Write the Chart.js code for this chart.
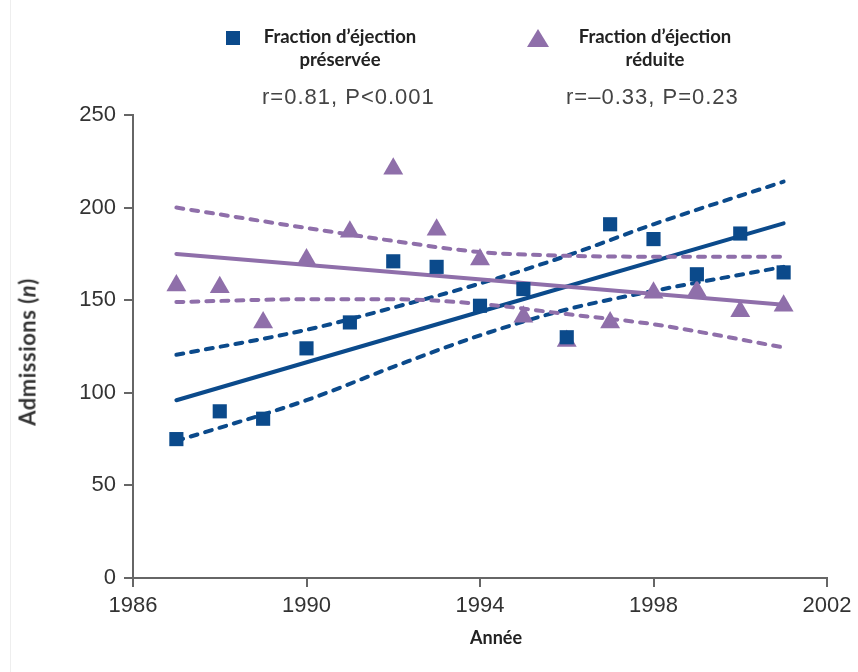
<!DOCTYPE html>
<html>
<head>
<meta charset="utf-8">
<script src="https://cdn.jsdelivr.net/npm/chart.js@4"></script>
<style>
  body { margin: 0; background: #fff; }
  #wrap { position: relative; width: 858px; height: 672px; overflow: hidden; }
  #wrap:before { content: ''; position: absolute; left: 10px; top: 0; bottom: 0; border-left: 1px solid #eee; }
  canvas { position: absolute; left: 0; top: 0; }
  .txt { position: absolute; color: #333; white-space: nowrap; }
  .leg { font: bold 18.5px Lato, "Noto Sans", sans-serif; text-align: center; line-height: 23px; color: #222; }
  .stat { font: 22px "Liberation Sans", Arial, sans-serif; letter-spacing: 1px; color: #444; }
  .sq { position: absolute; left: 226px; top: 31px; width: 14px; height: 14px; background: #0b4a8b; }
  .tri { position: absolute; left: 527px; top: 29px; width: 0; height: 0;
         border-left: 11px solid transparent; border-right: 11px solid transparent; border-bottom: 18px solid #8f6faa; }
  #ytitle { left: 27px; top: 352px; transform: translate(-50%, -50%) rotate(-90deg);
            font: bold 22px Lato, "Noto Sans", sans-serif; letter-spacing: 0.5px; color: #333; }
  #xtitle { left: 496px; top: 637px; transform: translate(-50%, -50%);
            font: bold 18px Lato, "Noto Sans", sans-serif; color: #222; }
</style>
</head>
<body>
<div id="wrap">
  <canvas id="myChart" width="858" height="672"></canvas>
  <div class="sq"></div>
  <div class="txt leg" style="left:340px; top:25px; transform:translateX(-50%)">Fraction d’éjection<br>préservée</div>
  <div class="tri"></div>
  <div class="txt leg" style="left:655px; top:25px; transform:translateX(-50%)">Fraction d’éjection<br>réduite</div>
  <div class="txt stat" style="left:262px; top:84px">r=0.81, P&lt;0.001</div>
  <div class="txt stat" style="left:566px; top:84px">r=–0.33, P=0.23</div>
  <div class="txt" id="ytitle">Admissions (<i>n</i>)</div>
  <div class="txt" id="xtitle">Année</div>
</div>
<script>
// values
const years = [1987, 1988, 1989, 1990, 1991, 1992, 1993, 1994, 1995, 1996, 1997, 1998, 1999, 2000, 2001];
const preserved = [75, 90, 86, 124, 138, 171, 168, 147, 156, 130, 191, 183, 164, 186, 165];
const reduced = [158, 157, 138, 172, 187, 221, 188, 172, 141, 128, 138, 154, 155, 144, 147];

// regression lines and confidence bands
const fitYears = [1987, 2001];
const preservedFit = [96, 191.5];
const reducedFit = [175, 147.5];
const bandYears = [1987, 1990, 1992, 1994, 1996, 1998, 2001];
const preservedUpper = [120.5, 134, 146, 159, 174, 191, 214];
const preservedLower = [74, 96, 114, 131, 145, 155, 168];
const reducedUpper = [200, 189, 182, 176, 174, 173.5, 173.5];
const reducedLower = [149, 150.5, 150.5, 148, 142.5, 137, 124.5];

const xTicks = [1986, 1990, 1994, 1998, 2002];
const yTicks = [0, 50, 100, 150, 200, 250];

const BLUE = '#0b4a8b';
const PURPLE = '#8f6faa';

function pts(xs, ys) {
  return xs.map((x, i) => ({x: x, y: ys[i]}));
}

function lineSet(xs, ys, color, dashed) {
  return {
    data: pts(xs, ys),
    showLine: true,
    borderColor: color,
    borderWidth: 4,
    borderDash: dashed ? [7, 8] : [],
    borderCapStyle: 'round',
    cubicInterpolationMode: 'monotone',
    pointRadius: 0,
    order: 2,
  };
}

const axisStyle = {
  grid: {drawOnChartArea: false, drawTicks: true, tickLength: 9, color: '#666', lineWidth: 2},
  border: {display: true, color: '#666', width: 2},
};

new Chart(document.getElementById('myChart'), {
  type: 'scatter',
  data: {
    datasets: [
      {
        data: pts(years, preserved),
        pointStyle: 'rect',
        pointRadius: 10,
        backgroundColor: BLUE,
        borderWidth: 0,
        order: 0,
      },
      {
        data: pts(years, reduced),
        pointStyle: 'triangle',
        pointRadius: 11.5,
        backgroundColor: PURPLE,
        borderWidth: 0,
        order: 1,
      },
      lineSet(fitYears, reducedFit, PURPLE, false),
      lineSet(bandYears, reducedUpper, PURPLE, true),
      lineSet(bandYears, reducedLower, PURPLE, true),
      lineSet(fitYears, preservedFit, BLUE, false),
      lineSet(bandYears, preservedUpper, BLUE, true),
      lineSet(bandYears, preservedLower, BLUE, true),
    ],
  },
  options: {
    responsive: false,
    animation: false,
    layout: {padding: {left: 0, top: 115, right: 31, bottom: 0}},
    plugins: {legend: {display: false}, tooltip: {enabled: false}},
    scales: {
      x: {
        type: 'linear',
        min: 1986,
        max: 2002,
        ...axisStyle,
        afterBuildTicks: s => { s.ticks = xTicks.map(v => ({value: v})); },
        afterFit: s => { s.height = 94; },
        ticks: {
          padding: 6,
          color: '#333',
          font: {family: 'Liberation Sans', size: 22},
          callback: v => String(v),
        },
      },
      y: {
        min: 0,
        max: 250,
        ...axisStyle,
        afterBuildTicks: s => { s.ticks = yTicks.map(v => ({value: v})); },
        afterFit: s => { s.width = 133; },
        ticks: {
          padding: 8,
          color: '#333',
          font: {family: 'Liberation Sans', size: 22},
          callback: v => String(v),
        },
      },
    },
  },
});
</script>
</body>
</html>
